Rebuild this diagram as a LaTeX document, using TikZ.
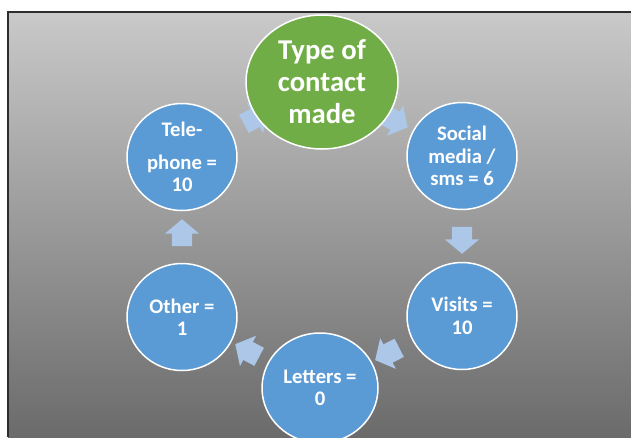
\documentclass[tikz,border=0pt]{standalone}
\usepackage{fontspec}
\setmainfont{Carlito}
\usetikzlibrary{shapes.geometric,shapes.arrows,calc}
\definecolor{bgtop}{RGB}{201,201,201}
\definecolor{bgbottom}{RGB}{107,107,107}
\definecolor{frameline}{RGB}{45,45,45}
\definecolor{cycblue}{RGB}{91,155,213}
\definecolor{cycgreen}{RGB}{112,173,71}
\definecolor{arrowblue}{RGB}{172,199,232}
\tikzset{
    stage/.style={ellipse, fill=cycblue, draw=white, line width=1.5pt,
        minimum width=110pt, minimum height=107pt, inner sep=0pt,
        text=white, align=center, font=\bfseries\fontsize{20.7}{22.5}\selectfont},
    hub/.style={stage, fill=cycgreen, minimum width=152pt, minimum height=134pt,
        font=\bfseries\fontsize{28.7}{32}\selectfont},
    cycarrow/.style={single arrow, fill=arrowblue, draw=none,
        inner xsep=0pt, inner ysep=10pt, minimum height=27pt,
        single arrow head extend=7pt, single arrow tip angle=100}
}

\begin{document}
\begin{tikzpicture}[x=1pt,y=-1pt]
	    \useasboundingbox (0,0) rectangle (631,437);
	    \shade[top color=bgtop, bottom color=bgbottom] (8,12) rectangle (631,437);
	    \draw[frameline, line width=2pt] (8,437) -- (8,12) -- (631,12);
	    % stages of the cycle
	    \coordinate (c0) at (322,82);
	    \coordinate (c1) at (462,156);
	    \coordinate (c2) at (462,316);
	    \coordinate (c3) at (320,388);
	    \coordinate (c4) at (182,317);
	    \coordinate (c5) at (182,157);
	    % arrows between them
	    \node[cycarrow, rotate=-28] (a1) at ($(c0)!0.5!(c1)$) {};
	    \node[cycarrow, rotate=-90] (a2) at ($(c1)!0.5!(c2)$) {};
	    \node[cycarrow, rotate=207] (a3) at ($(c2)!0.5!(c3)$) {};
	    \node[cycarrow, rotate=152] (a4) at ($(c3)!0.5!(c4)$) {};
	    \node[cycarrow, rotate=90] (a5) at ($(c4)!0.5!(c5)$) {};
	    \node[cycarrow, rotate=28] (a6) at ($(c5)!0.5!(c0)$) {};
	    \node[hub] (contact) at (c0) {Type of\\contact\\made};
	    \node[stage] (social) at (c1) {Social\\media /\\sms = 6};
	    \node[stage] (visits) at (c2) {Visits =\\10};
	    \node[stage, minimum width=116pt, minimum height=110pt] (letters) at (c3) {Letters =\\0};
	    \node[stage] (other) at (c4) {Other =\\1};
	    \node[stage] (phone) at (c5) {Tele-\\[10pt]phone =\\10};
	\end{tikzpicture}
\end{document}
